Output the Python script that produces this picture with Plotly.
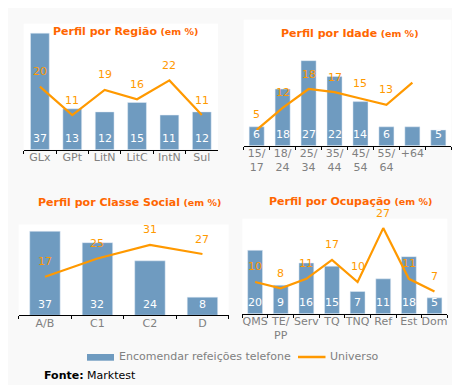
import plotly.graph_objects as go

# ---------------- data ----------------
reg_cats = ["GLx", "GPt", "LitN", "LitC", "IntN", "Sul"]
reg_bars = [37, 13, 12, 15, 11, 12]
reg_line = [20, 11, 19, 16, 22, 11]

age_cats = ["15/<br>17", "18/<br>24", "25/<br>34", "35/<br>44", "45/<br>54", "55/<br>64", "+64", " "]
age_bars = [6, 18, 27, 22, 14, 6, 6, 5]
age_line = [5, 12, 18, 17, 15, 13, 20]

cls_cats = ["A/B", "C1", "C2", "D"]
cls_bars = [37, 32, 24, 8]
cls_line = [17, 25, 31, 27]

occ_cats = ["QMS", "TE/<br>PP", "Serv", "TQ", "TNQ", "Ref", "Est", "Dom"]
occ_bars = [20, 9, 16, 15, 7, 11, 18, 5]
occ_line = [10, 8, 11, 17, 10, 27, 11, 7]

titles = ["Perfil por Região", "Perfil por Idade", "Perfil por Classe Social", "Perfil por Ocupação"]
bar_name = "Encomendar refeições telefone"
line_name = "Universo"
source_label = "Fonte:"
source_name = "Marktest"

# ---------------- style ----------------
W, H = 460, 385
FONT = "Verdana, DejaVu Sans, sans-serif"
BAR_C = "#6f9bc0"
LINE_C = "#ff9900"
TITLE_C = "#ff6600"
TICK_C = "#808080"


def xd(a, b):
    return [a / W, b / W]


def yd(top, bottom):
    return [1 - bottom / H, 1 - top / H]


# panel geometry in px: (x0, x1, top, baseline, ymax, title_x, title_y)
panels = [
    (15.7, 210.0, 15.7, 141.7, 40, 117.5, 23.3),
    (235.7, 443.3, 11.7, 137.7, 40, 341.7, 25.0),
    (10.7, 220.7, 216.5, 307.3, 40, 121.7, 195.0),
    (234.3, 439.3, 210.6, 305.7, 30, 342.0, 194.0),
]
datasets = [
    (reg_cats, reg_bars, reg_line),
    (age_cats, age_bars, age_line),
    (cls_cats, cls_bars, cls_line),
    (occ_cats, occ_bars, occ_line),
]

fig = go.Figure()
annotations = []
layout = {}

for i, ((cats, bars, line), (x0, x1, top, base, ymax, tx, ty)) in enumerate(zip(datasets, panels)):
    n = i + 1
    xa = "x" if n == 1 else f"x{n}"
    ya = "y" if n == 1 else f"y{n}"
    xkey = "xaxis" if n == 1 else f"xaxis{n}"
    ykey = "yaxis" if n == 1 else f"yaxis{n}"

    fig.add_trace(go.Bar(x=cats, y=bars, name=bar_name, marker_color=BAR_C,
                         width=0.58, xaxis=xa, yaxis=ya, showlegend=False,
                         hoverinfo="skip"))
    fig.add_trace(go.Scatter(x=cats[:len(line)], y=line, name=line_name, mode="lines",
                             line=dict(color=LINE_C, width=2.2), xaxis=xa, yaxis=ya,
                             showlegend=False, hoverinfo="skip"))

    layout[xkey] = dict(domain=xd(x0, x1), type="category", anchor=ya,
                        categoryorder="array", categoryarray=cats,
                        range=[-0.5, len(cats) - 0.5],
                        showline=True, linecolor="black", linewidth=1,
                        ticks="outside", ticklen=3, tickcolor="black", tickwidth=1,
                        tickson="boundaries", showgrid=False, zeroline=False,
                        tickangle=0,
                        tickfont=dict(family=FONT, size=11, color=TICK_C),
                        ticklabelstandoff=-3, fixedrange=True)
    layout[ykey] = dict(domain=yd(top, base), range=[0, ymax], visible=False,
                        anchor=xa, fixedrange=True)

    for c, v in zip(cats, bars):
        annotations.append(dict(x=c, y=0, xref=xa, yref=ya, text=str(v), showarrow=False,
                                yshift=11, yanchor="middle",
                                font=dict(family=FONT, size=11, color="white")))
    for c, v in zip(cats, line):
        annotations.append(dict(x=c, y=v, xref=xa, yref=ya, text=str(v), showarrow=False,
                                yshift=15, yanchor="middle",
                                font=dict(family=FONT, size=11, color=LINE_C)))

    annotations.append(dict(x=tx / W, y=1 - ty / H, xref="paper", yref="paper",
                            xanchor="center", yanchor="middle", showarrow=False,
                            text=f"<b>{titles[i]}</b> <b><span style='font-size:9.5px'>(em %)</span></b>",
                            font=dict(family=FONT, size=11, color=TITLE_C)))

# legend (manual)
shapes = [
    dict(type="rect", xref="paper", yref="paper", x0=79 / W, x1=106 / W,
         y0=1 - 352.7 / H, y1=1 - 346 / H, fillcolor=BAR_C, line_width=0),
    dict(type="line", xref="paper", yref="paper", x0=290 / W, x1=317.5 / W,
         y0=1 - 349 / H, y1=1 - 349 / H, line=dict(color=LINE_C, width=2.5)),
]
annotations.append(dict(x=109 / W, y=1 - 348.5 / H, xref="paper", yref="paper",
                        xanchor="left", yanchor="middle", showarrow=False, text=bar_name,
                        font=dict(family=FONT, size=11, color=TICK_C)))
annotations.append(dict(x=320 / W, y=1 - 348.5 / H, xref="paper", yref="paper",
                        xanchor="left", yanchor="middle", showarrow=False, text=line_name,
                        font=dict(family=FONT, size=11, color=TICK_C)))
annotations.append(dict(x=34 / W, y=1 - 367 / H, xref="paper", yref="paper",
                        xanchor="left", yanchor="middle", showarrow=False,
                        text=f"<b>{source_label}</b> {source_name}",
                        font=dict(family=FONT, size=11, color="black")))

fig.update_layout(
    width=W, height=H,
    margin=dict(l=0, r=0, t=0, b=0),
    paper_bgcolor="#f9f9f9",
    plot_bgcolor="white",
    barmode="overlay",
    showlegend=False,
    annotations=annotations,
    shapes=shapes,
    **layout,
)

fig.write_html("out.html")
